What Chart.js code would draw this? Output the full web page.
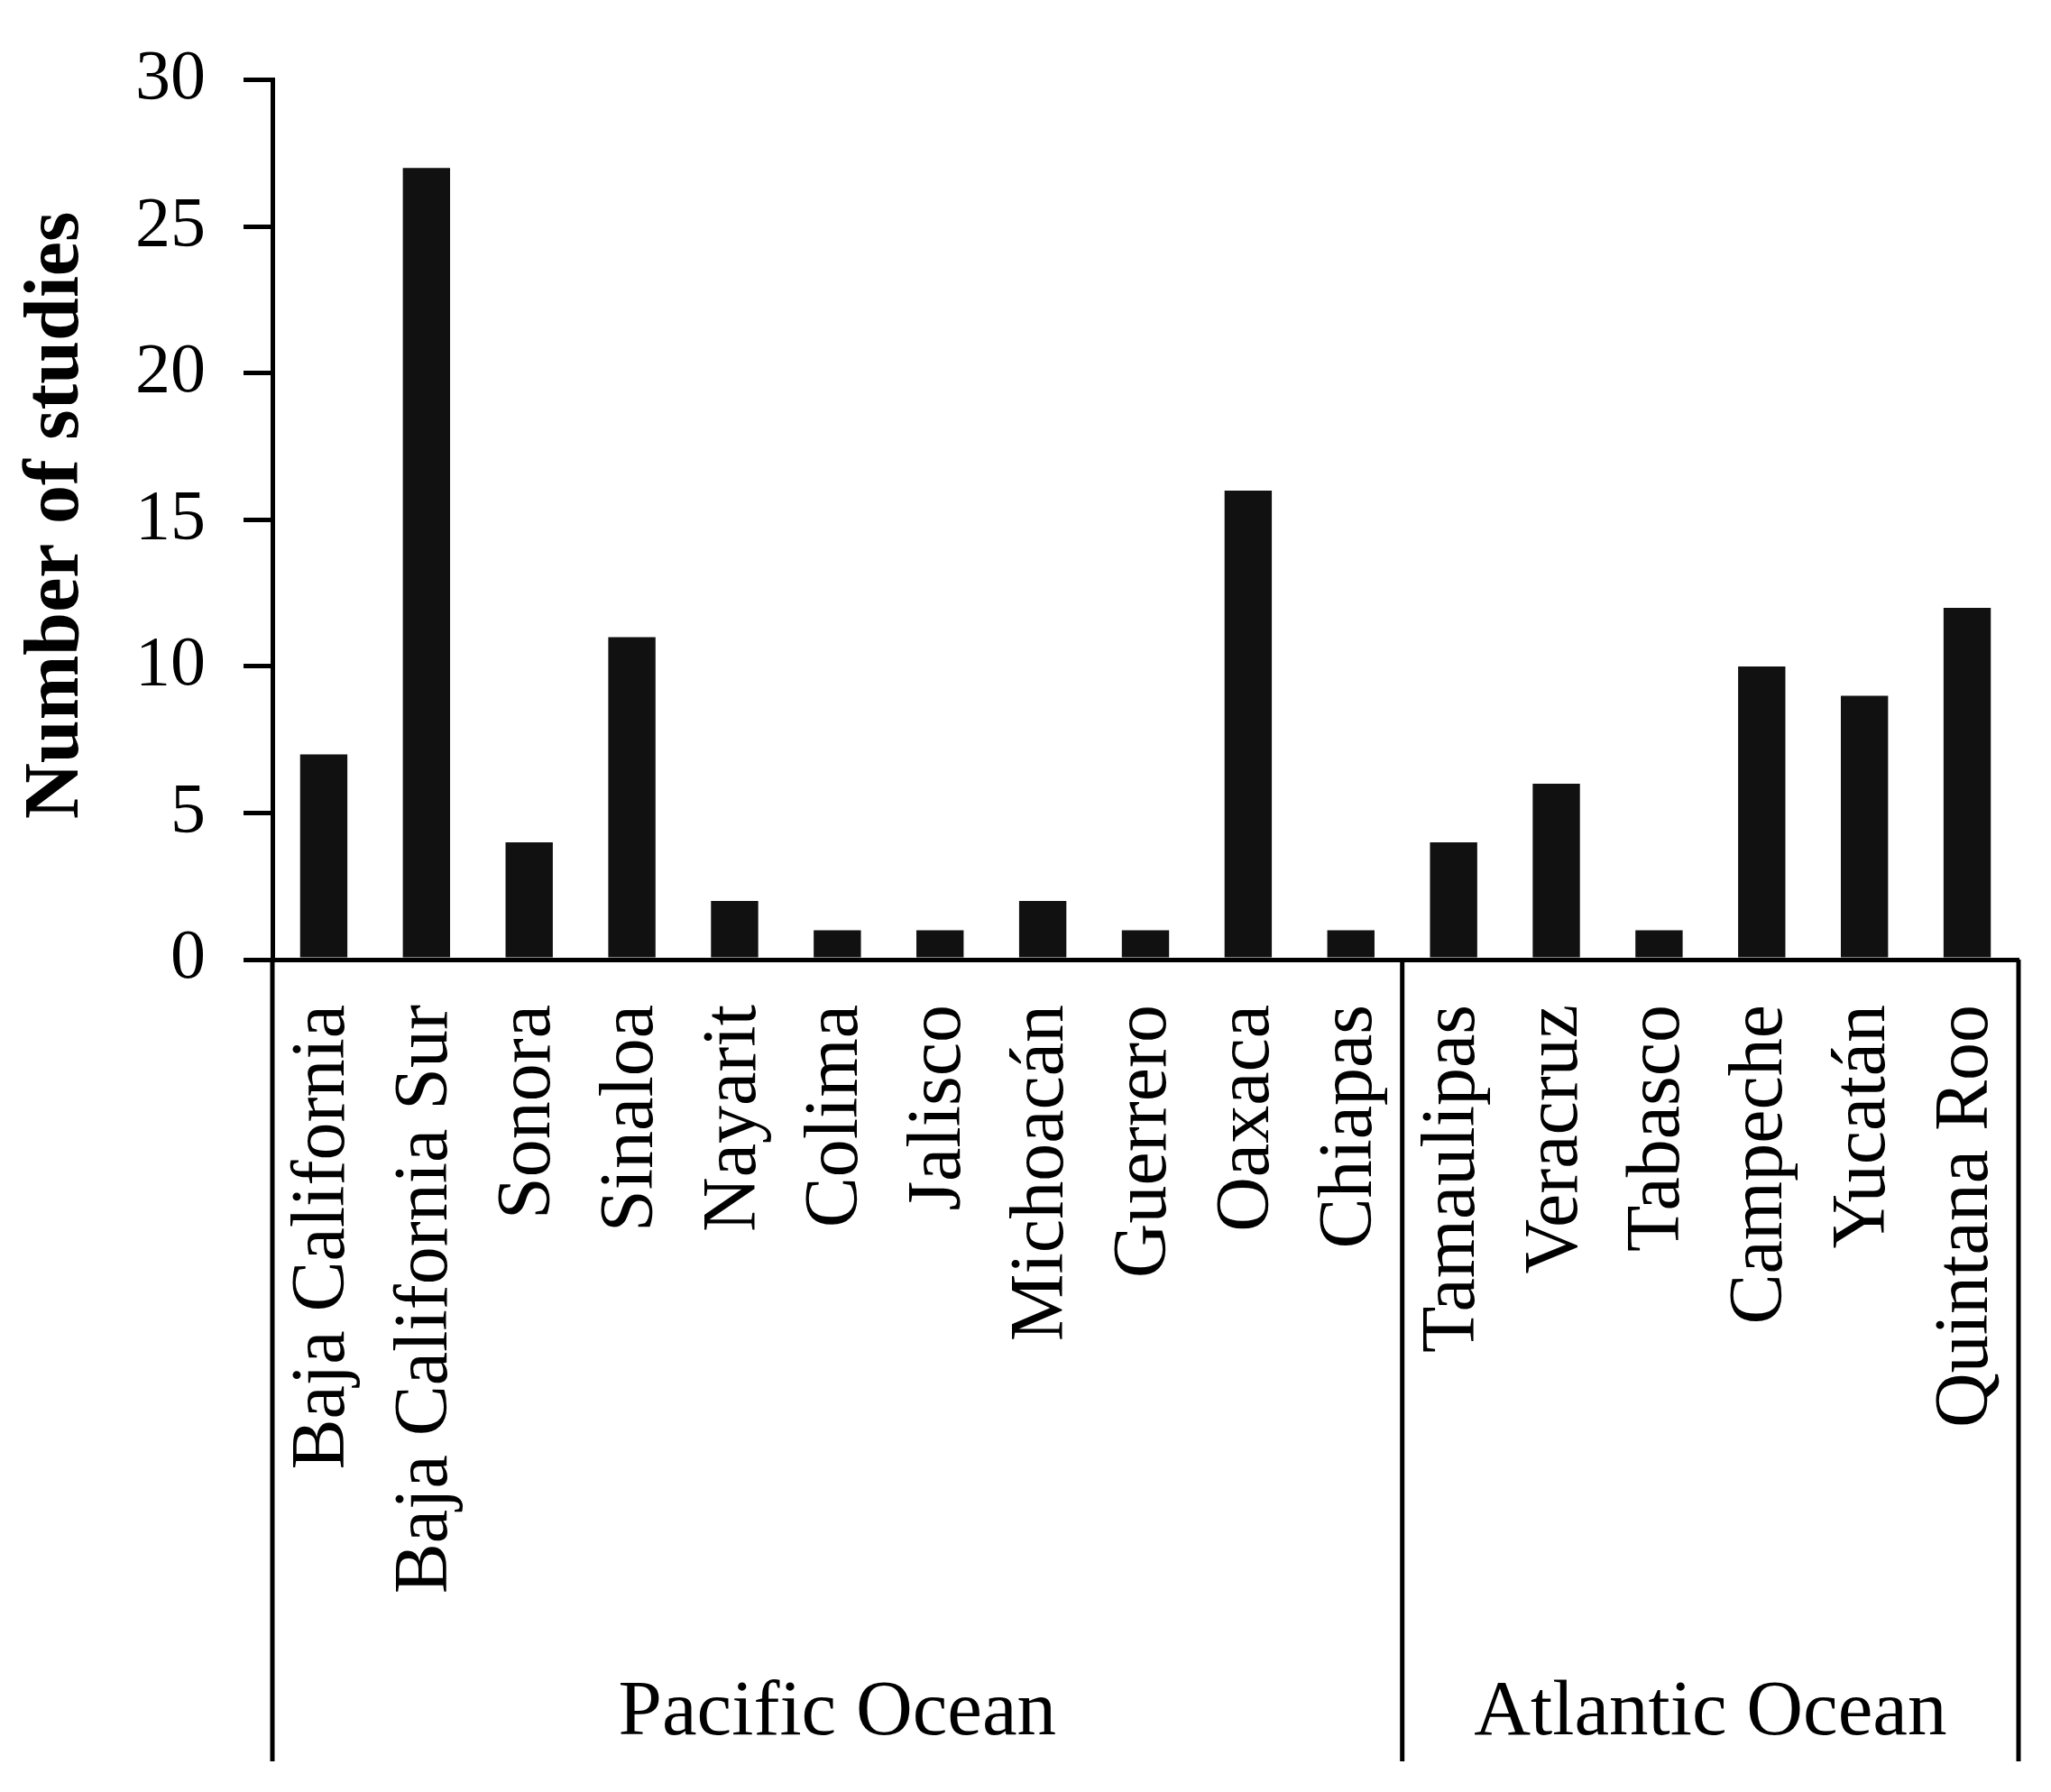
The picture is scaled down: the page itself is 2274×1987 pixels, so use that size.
<!DOCTYPE html>
<html>
<head>
<meta charset="utf-8">
<script src="https://cdn.jsdelivr.net/npm/chart.js@4"></script>
<style>
  html, body { margin: 0; padding: 0; background: #fff; }
  #wrap { width: 2274px; height: 1987px; }
</style>
</head>
<body>
<div id="wrap"><canvas id="c"></canvas></div>
<script>
const states = ['Baja California', 'Baja California Sur', 'Sonora', 'Sinaloa', 'Nayarit', 'Colima',
  'Jalisco', 'Michoacán', 'Guerrero', 'Oaxaca', 'Chiapas',
  'Tamaulipas', 'Veracruz', 'Tabasco', 'Campeche', 'Yucatán', 'Quintana Roo'];
const studies = [7, 27, 4, 11, 2, 1, 1, 2, 1, 16, 1, 4, 6, 1, 10, 9, 12];
const groups = ['Pacific Ocean', 'Atlantic Ocean'];
const groupSizes = [11, 6];
const yTicks = [0, 5, 10, 15, 20, 25, 30];

const serif = "'Liberation Serif', 'Times New Roman', serif";

// rotated state names, ocean groups and the y title
const decor = {
  id: 'decor',
  afterDraw(chart) {
    const { ctx, chartArea, scales } = chart;
    const x = scales.x;
    const y0 = chartArea.bottom;
    const bottom = 1953;
    ctx.save();
    ctx.fillStyle = '#000';
    ctx.strokeStyle = '#000';
    ctx.lineWidth = 5;

    ctx.font = `84px ${serif}`;
    ctx.textAlign = 'right';
    ctx.textBaseline = 'middle';
    states.forEach((s, i) => {
      ctx.save();
      ctx.translate(x.getPixelForValue(i), y0 + 50);
      ctx.rotate(-Math.PI / 2);
      ctx.fillText(s, 0, 0);
      ctx.restore();
    });

    // group boundaries
    const half = (x.getPixelForValue(1) - x.getPixelForValue(0)) / 2;
    let start = 0;
    const edges = [chartArea.left];
    groupSizes.forEach(n => {
      start += n;
      edges.push(x.getPixelForValue(start - 1) + half);
    });
    edges.forEach(e => {
      ctx.beginPath();
      ctx.moveTo(e, y0);
      ctx.lineTo(e, bottom);
      ctx.stroke();
    });
    ctx.font = `87px ${serif}`;
    ctx.textAlign = 'center';
    groups.forEach((g, i) => {
      ctx.fillText(g, (edges[i] + edges[i + 1]) / 2, 1900);
    });

    ctx.font = `bold 86px ${serif}`;
    ctx.save();
    ctx.translate(64, (chartArea.top + chartArea.bottom) / 2 - 5);
    ctx.rotate(-Math.PI / 2);
    ctx.fillText('Number of studies', 0, 0);
    ctx.restore();
    ctx.restore();
  }
};

new Chart(document.getElementById('c'), {
  type: 'bar',
  data: {
    labels: states,
    datasets: [{
      data: studies,
      backgroundColor: '#111',
      barPercentage: 0.46,
      categoryPercentage: 1
    }]
  },
  options: {
    responsive: true,
    maintainAspectRatio: false,
    animation: false,
    layout: { padding: { left: 0, top: 52, right: 36, bottom: 923 } },
    plugins: { legend: { display: false }, tooltip: { enabled: false } },
    scales: {
      x: {
        ticks: { display: false },
        grid: { display: false },
        border: { color: '#000', width: 5 },
        afterFit: s => { s.height = 0; }
      },
      y: {
        min: 0,
        max: 30,
        afterBuildTicks: s => { s.ticks = yTicks.map(v => ({ value: v })); },
        ticks: { font: { family: serif, size: 78 }, color: '#000', padding: 42 },
        grid: { drawOnChartArea: false, tickLength: 32, color: '#000', lineWidth: 5 },
        border: { color: '#000', width: 5 },
        afterFit: s => { s.width = 302; }
      }
    }
  },
  plugins: [decor]
});
</script>
</body>
</html>
